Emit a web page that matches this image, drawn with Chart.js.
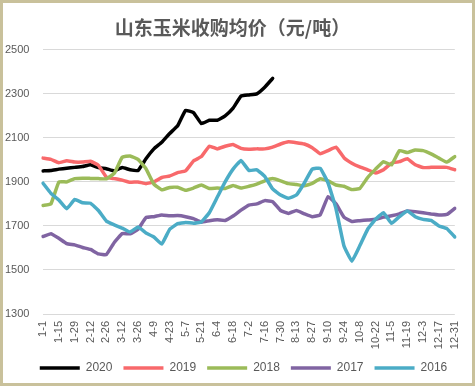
<!DOCTYPE html>
<html>
<head>
  <meta charset="UTF-8">
  <script src="https://cdn.jsdelivr.net/npm/chart.js"></script>
  <title>山东玉米收购均价</title>
  <style>
    body { margin: 0; background: #fff; }
  </style>
</head>
<body>
  <canvas id="myChart" width="475" height="386"></canvas>

<script>
  // weekly dates, every second one is shown on the axis
  var weeks = ['1-1', '1-8', '1-15', '1-22', '1-29', '2-5', '2-12', '2-19', '2-26', '3-5',
    '3-12', '3-19', '3-26', '4-2', '4-9', '4-16', '4-23', '4-30', '5-7', '5-14',
    '5-21', '5-28', '6-4', '6-11', '6-18', '6-25', '7-2', '7-9', '7-16', '7-23',
    '7-30', '8-6', '8-13', '8-20', '8-27', '9-3', '9-10', '9-17', '9-24', '10-1',
    '10-8', '10-15', '10-22', '10-29', '11-5', '11-12', '11-19', '11-26', '12-3', '12-10',
    '12-17', '12-24', '12-31'];

  var years = ['2020', '2019', '2018', '2017', '2016'];

  var p2020 = [1950, 1952, 1958, 1962, 1966, 1970, 1978, 1965, 1960, 1950,
    1965, 1955, 1952, 2005, 2050, 2080, 2120, 2155, 2225, 2215,
    2165, 2180, 2180, 2200, 2235, 2290, 2295, 2300, 2330, 2370];

  var p2019 = [2008, 2002, 1987, 1996, 1990, 1990, 1994, 1975, 1922, 1915,
    1908, 1898, 1900, 1892, 1900, 1920, 1927, 1942, 1950, 1995,
    2015, 2062, 2050, 2062, 2070, 2052, 2048, 2050, 2050, 2058,
    2072, 2082, 2078, 2072, 2055, 2028, 2042, 2058, 2010, 1985,
    1968, 1955, 1940, 1955, 1985, 1992, 2005, 1978, 1965, 1966,
    1966, 1966, 1955];

  var p2018 = [1793, 1800, 1900, 1900, 1915, 1917, 1916, 1915, 1914, 1939,
    2012, 2018, 2002, 1960, 1890, 1864, 1875, 1876, 1862, 1872,
    1886, 1870, 1872, 1870, 1884, 1872, 1880, 1890, 1905, 1915,
    1905, 1892, 1888, 1882, 1893, 1914, 1905, 1886, 1880, 1865,
    1870, 1920, 1958, 1992, 1977, 2042, 2033, 2045, 2042, 2027,
    2008, 1990, 2015];

  var p2017 = [1652, 1665, 1644, 1620, 1614, 1602, 1593, 1573, 1570, 1625,
    1665, 1664, 1685, 1738, 1742, 1750, 1746, 1747, 1742, 1733,
    1717, 1724, 1728, 1725, 1745, 1772, 1795, 1800, 1815, 1810,
    1770, 1757, 1770, 1755, 1742, 1750, 1833, 1800, 1740, 1720,
    1724, 1727, 1730, 1740, 1746, 1755, 1768, 1765, 1760, 1754,
    1750, 1752, 1780];

  var p2016 = [1894, 1848, 1818, 1778, 1820, 1805, 1803, 1770, 1722, 1705,
    1690, 1672, 1695, 1668, 1650, 1618, 1685, 1710, 1716, 1712,
    1718, 1760, 1830, 1900, 1958, 1997, 1952, 1955, 1925, 1868,
    1840, 1826, 1840, 1895, 1958, 1962, 1895, 1778, 1610, 1540,
    1610, 1685, 1730, 1760, 1712, 1742, 1768, 1742, 1730, 1725,
    1700, 1688, 1650];

  var cores = ['#000000', '#F8696B', '#9BBB59', '#8064A2', '#4BACC6'];
  var series = [p2020, p2019, p2018, p2017, p2016];

  Chart.defaults.font.family = '"Liberation Sans", Arial, sans-serif';
  Chart.defaults.color = '#595959';

  var datasets = [];
  for (var i = 0; i < years.length; i++) {
    datasets.push({
      label: years[i],
      data: series[i],
      borderColor: cores[i],
      backgroundColor: cores[i],
      borderWidth: 3.5,
      borderCapStyle: 'round',
      borderJoinStyle: 'round',
      pointRadius: 0,
      tension: 0.1,
      order: years.length - 1 - i
    });
  }

  // white card with beige frame
  const fundo = {
    id: 'fundo',
    beforeDraw(chart) {
      const ctx = chart.ctx;
      ctx.save();
      ctx.fillStyle = '#ffffff';
      ctx.fillRect(0, 0, chart.width, chart.height);
      ctx.strokeStyle = '#C9C19B';
      ctx.lineWidth = 3;
      ctx.strokeRect(1.5, 1.5, chart.width - 3, chart.height - 3);
      ctx.restore();
    },
    afterLayout(chart) {
      chart.legend.left += 11;
      chart.legend.right += 11;
    }
  };

  const myChart = new Chart(document.getElementById('myChart'), {
    type: 'line',
    data: { labels: weeks, datasets: datasets },
    plugins: [fundo],
    options: {
      responsive: false,
      animation: false,
      layout: { padding: { left: 5, right: 15, top: 0, bottom: 2 } },
      plugins: {
        title: {
          display: true,
          text: '山东玉米收购均价（元/吨）',
          color: '#595959',
          font: { family: '"Noto Sans CJK SC", sans-serif', size: 19, weight: 'bold' },
          padding: { top: 16, bottom: 11 }
        },
        legend: {
          position: 'bottom',
          labels: {
            usePointStyle: true,
            pointStyle: 'line',
            pointStyleWidth: 40,
            padding: 11,
            color: '#595959',
            font: { size: 12 },
            sort: function (a, b) { return a.datasetIndex - b.datasetIndex; }
          }
        },
        tooltip: { enabled: false }
      },
      scales: {
        x: {
          grid: { display: false, drawTicks: false },
          border: { display: false },
          afterFit: function (scale) { scale.height = 37; },
          ticks: {
            autoSkip: false,
            minRotation: 90,
            maxRotation: 90,
            padding: 7,
            font: { size: 11 },
            callback: function (val, idx) { return idx % 2 ? '' : weeks[idx]; }
          }
        },
        y: {
          min: 1300,
          max: 2500,
          grid: { color: '#D9D9D9', drawTicks: false },
          border: { display: false },
          afterFit: function (scale) { scale.width = 38; },
          ticks: {
            stepSize: 200,
            crossAlign: 'far',
            font: { size: 11 },
            callback: function (v) { return String(v); }
          }
        }
      }
    }
  });
</script>
</body>
</html>
